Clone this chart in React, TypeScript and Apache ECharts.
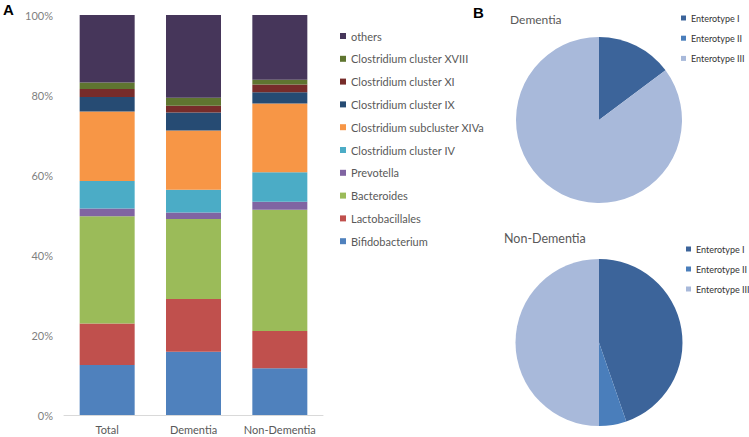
import React, { useEffect, useRef } from "react";
import * as echarts from "echarts";

const groups = ["Total", "Dementia", "Non-Dementia"];
const taxa = [
  "Bifidobacterium",
  "Lactobacillales",
  "Bacteroides",
  "Prevotella",
  "Clostridium cluster IV",
  "Clostridium subcluster XIVa",
  "Clostridium cluster IX",
  "Clostridium cluster XI",
  "Clostridium cluster XVIII",
  "others",
];
const bifidobacterium = [12.5, 15.8, 11.7];
const lactobacillales = [10.4, 13.2, 9.3];
const bacteroides = [26.8, 20.0, 30.3];
const prevotella = [1.9, 1.6, 2.0];
const clusterIV = [6.9, 5.7, 7.4];
const subclusterXIVa = [17.4, 14.8, 17.2];
const clusterIX = [3.6, 4.5, 2.8];
const clusterXI = [2.0, 1.7, 1.9];
const clusterXVIII = [1.6, 2.0, 1.2];
const others = [16.9, 20.7, 16.2];
const taxaValues = [
  bifidobacterium,
  lactobacillales,
  bacteroides,
  prevotella,
  clusterIV,
  subclusterXIVa,
  clusterIX,
  clusterXI,
  clusterXVIII,
  others,
];
const taxaColors = [
  "#4F81BD",
  "#C0504D",
  "#9BBB59",
  "#8064A2",
  "#4BACC6",
  "#F79646",
  "#264B73",
  "#772C2A",
  "#5F7530",
  "#46365A",
];
const yTicks = [0, 20, 40, 60, 80, 100];

const enterotypes = ["Enterotype I", "Enterotype II", "Enterotype III"];
const dementiaEnterotypes = [14.8, 0, 85.2];
const nonDementiaEnterotypes = [44.7, 5.3, 50.0];
const enterotypeColors = ["#3C649A", "#4A7EBB", "#A8B9DA"];

const FONT = "Lato, 'Open Sans', sans-serif";

export default function App() {
  const ref = useRef<HTMLDivElement>(null);
  useEffect(() => {
    if (!ref.current) return;
    const chart = echarts.init(ref.current, null, { renderer: "svg" });
    const pieData = (vals: number[]) =>
      enterotypes.map((n, i) => ({
        name: n,
        value: vals[i],
        itemStyle: { color: enterotypeColors[i] },
      }));
    const pieLegendText = { color: "#333333", fontSize: 9, lineHeight: 12, fontWeight: "normal", fontFamily: FONT };
    chart.setOption({
      animation: false,
      textStyle: { fontFamily: FONT },
      grid: { left: 64, right: 426, top: 15, bottom: 22 },
      xAxis: {
        type: "category",
        data: groups,
        axisLine: { lineStyle: { color: "#D9D9D9" } },
        axisTick: { show: false },
        axisLabel: { color: "#595959", fontSize: 11, margin: 9, interval: 0, fontFamily: FONT },
      },
      yAxis: {
        type: "value",
        min: yTicks[0],
        max: yTicks[yTicks.length - 1],
        interval: 20,
        axisLine: { show: false },
        axisTick: { show: false },
        splitLine: { show: false },
        axisLabel: {
          color: "#7F7F7F",
          fontSize: 11,
          margin: 11,
          formatter: "{value}%",
          fontFamily: FONT,
        },
      },
      legend: [
        {
          orient: "vertical",
          left: 340,
          top: 29,
          padding: 0,
          itemWidth: 6,
          itemHeight: 6,
          itemGap: 8.8,
          icon: "rect",
          data: taxa.slice().reverse(),
          textStyle: { color: "#595959", fontSize: 11, lineHeight: 14, fontFamily: FONT },
        },
        {
          orient: "vertical",
          left: 681,
          top: 12,
          padding: 0,
          itemWidth: 5,
          itemHeight: 5,
          itemGap: 8.2,
          icon: "rect",
          data: enterotypes,
          textStyle: pieLegendText,
        },
        {
          orient: "vertical",
          left: 686,
          top: 243,
          padding: 0,
          itemWidth: 5,
          itemHeight: 5,
          itemGap: 8,
          icon: "rect",
          data: enterotypes,
          textStyle: pieLegendText,
        },
      ],
      title: [
        { text: "A", left: 3, top: 2, padding: 0, textStyle: { fontSize: 15, fontWeight: "bold", color: "#000", fontFamily: "'Liberation Sans', Arial, sans-serif" } },
        { text: "B", left: 473, top: 5, padding: 0, textStyle: { fontSize: 15, fontWeight: "bold", color: "#000", fontFamily: "'Liberation Sans', Arial, sans-serif" } },
        { text: "Dementia", left: 510, top: 13, padding: 0, textStyle: { fontSize: 12, fontWeight: "normal", color: "#595959", fontFamily: FONT } },
        { text: "Non-Dementia", left: 504, top: 232, padding: 0, textStyle: { fontSize: 12.5, fontWeight: "normal", color: "#595959", fontFamily: FONT } },
      ],
      series: [
        ...taxa.map((name, i) => ({
          type: "bar",
          name,
          stack: "total",
          barWidth: 55,
          data: taxaValues[i],
          itemStyle: { color: taxaColors[i] },
        })),
        {
          type: "pie",
          name: "Dementia",
          center: [599, 120],
          radius: 83,
          startAngle: 90,
          clockwise: true,
          label: { show: false },
          labelLine: { show: false },
          data: pieData(dementiaEnterotypes),
        },
        {
          type: "pie",
          name: "Non-Dementia",
          center: [599, 342.5],
          radius: 83.5,
          startAngle: 90,
          clockwise: true,
          label: { show: false },
          labelLine: { show: false },
          data: pieData(nonDementiaEnterotypes),
        },
      ],
    });
    return () => chart.dispose();
  }, []);
  return <div ref={ref} style={{ width: 749, height: 437, position: "absolute", left: 0, top: 0 }} />;
}
